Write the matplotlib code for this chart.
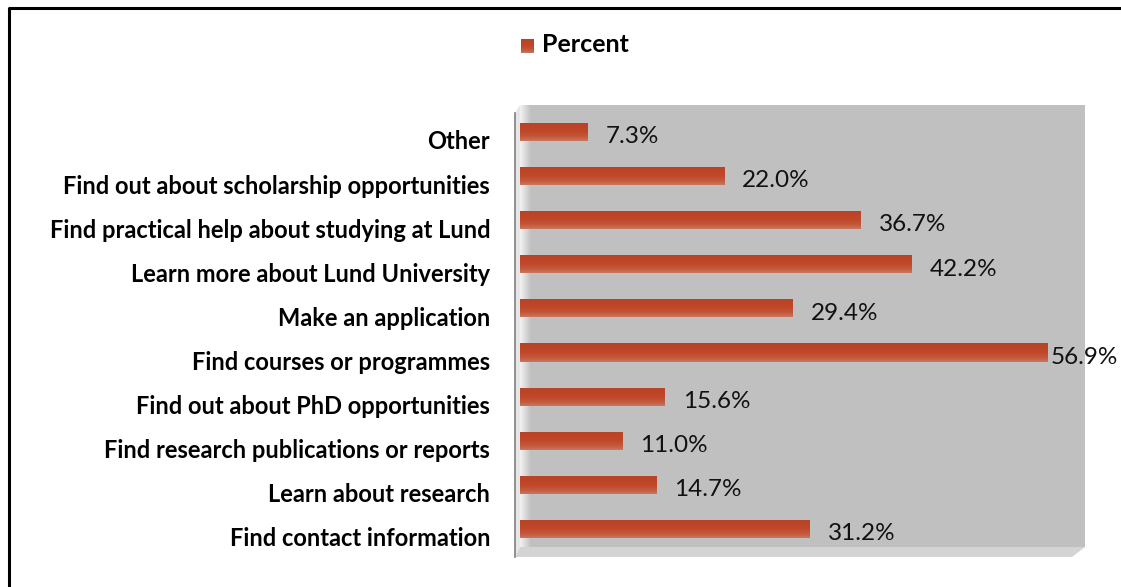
import numpy as np
import matplotlib.pyplot as plt
from matplotlib.colors import LinearSegmentedColormap
from matplotlib.patches import Polygon
from matplotlib.lines import Line2D
from matplotlib.transforms import ScaledTranslation

categories = [
    'Find contact information',
    'Learn about research',
    'Find research publications or reports',
    'Find out about PhD opportunities',
    'Find courses or programmes',
    'Make an application',
    'Learn more about Lund University',
    'Find practical help about studying at Lund',
    'Find out about scholarship opportunities',
    'Other',
]
percent = [31.2, 14.7, 11.0, 15.6, 56.9, 29.4, 42.2, 36.7, 22.0, 7.3]

FONT = 'Lato'
W, H = 1121, 587

fig = plt.figure(figsize=(W / 100, H / 100), dpi=100)
fig.patch.set_facecolor('white')


def px(x, y):
    # figure pixel (origin top-left) -> figure fraction
    return x / W, 1 - y / H


ax_l, ax_r, ax_t, ax_b = 520, 1085, 105, 547
XMAX = 60.9
YLIM = (-0.41, 9.61)
ax = fig.add_axes([ax_l / W, 1 - ax_b / H, (ax_r - ax_l) / W, (ax_b - ax_t) / H])
ax.set_facecolor('#c0c0c0')
for s in ax.spines.values():
    s.set_visible(False)
ax.set_xticks([])

# pale inner face of the left wall
wall_grad = LinearSegmentedColormap.from_list('wall', ['#f2f2f2', '#dadada', '#c0c0c0'])
ax.imshow(np.linspace(0, 1, 32).reshape(1, -1), cmap=wall_grad, aspect='auto',
          extent=(0, 11 * XMAX / (ax_r - ax_l), YLIM[0], YLIM[1]), zorder=1)

y = np.arange(len(categories))
bars = ax.barh(y, percent, height=0.41, color='#bf4629', zorder=2)
ax.set_xlim(0, XMAX)
ax.set_ylim(*YLIM)

# cylinder-ish shading on each bar
shade = LinearSegmentedColormap.from_list('shade', [
    (0.0, '#b0472f'), (0.15, '#bc4426'), (0.5, '#c04829'),
    (0.8, '#c45a3d'), (1.0, '#c8775f')])
grad = np.linspace(0, 1, 64).reshape(-1, 1)
for b in bars:
    x0, y0, w, h = b.get_x(), b.get_y(), b.get_width(), b.get_height()
    im = ax.imshow(grad, cmap=shade, aspect='auto', zorder=3,
                   extent=(x0, x0 + w, y0, y0 + h), origin='upper')
    im.set_clip_path(b)

vmax = max(percent)
for yi, v in zip(y, percent):
    off = 2 if v == vmax else 13
    ax.annotate(f'{v:.1f}%', (v, yi), xytext=(off, -3.5), textcoords='offset points',
                va='center', ha='left', fontsize=17.5, family=FONT,
                color='#111111', annotation_clip=False, zorder=5)

ax.set_yticks(y)
ax.set_yticklabels(categories, fontsize=17, fontweight='bold', family=FONT)
ax.tick_params(axis='y', length=0, pad=21.5)
drop = ScaledTranslation(0, -8 / 100, fig.dpi_scale_trans)
for lbl in ax.get_yticklabels():
    lbl.set_transform(lbl.get_transform() + drop)

# side wall and floor of the 3-D frame
wall = Polygon([px(515, 113), px(520, ax_t), px(520, ax_b), px(515, 557)],
               closed=True, transform=fig.transFigure, facecolor='#e6e6e6',
               edgecolor='none', zorder=1)
fig.patches.append(wall)
floor = Polygon([px(515, 557), px(520, ax_b), px(ax_r, ax_b), px(1072, 557)],
                closed=True, transform=fig.transFigure, facecolor='#d4d4d4',
                edgecolor='none')
fig.patches.append(floor)
fig.add_artist(Line2D([515 / W, 515 / W], [1 - 113 / H, 1 - 557 / H],
                      color='#7f7f7f', lw=1.2))

# legend
lax = fig.add_axes([521 / W, 1 - 53 / H, 13 / W, 14 / H])
lax.imshow(grad, cmap=shade, aspect='auto', extent=(0, 1, 0, 1))
lax.set_axis_off()
fig.text(542 / W, 1 - 45 / H, 'Percent', fontsize=18, fontweight='bold',
         family=FONT, va='center', ha='left')

# outer frame
fig.add_artist(Line2D([9 / W, 9 / W, 1.0], [0.0, 1 - 7.5 / H, 1 - 7.5 / H],
                      color='black', lw=2.2))

fig.savefig('out.png', dpi=100)
